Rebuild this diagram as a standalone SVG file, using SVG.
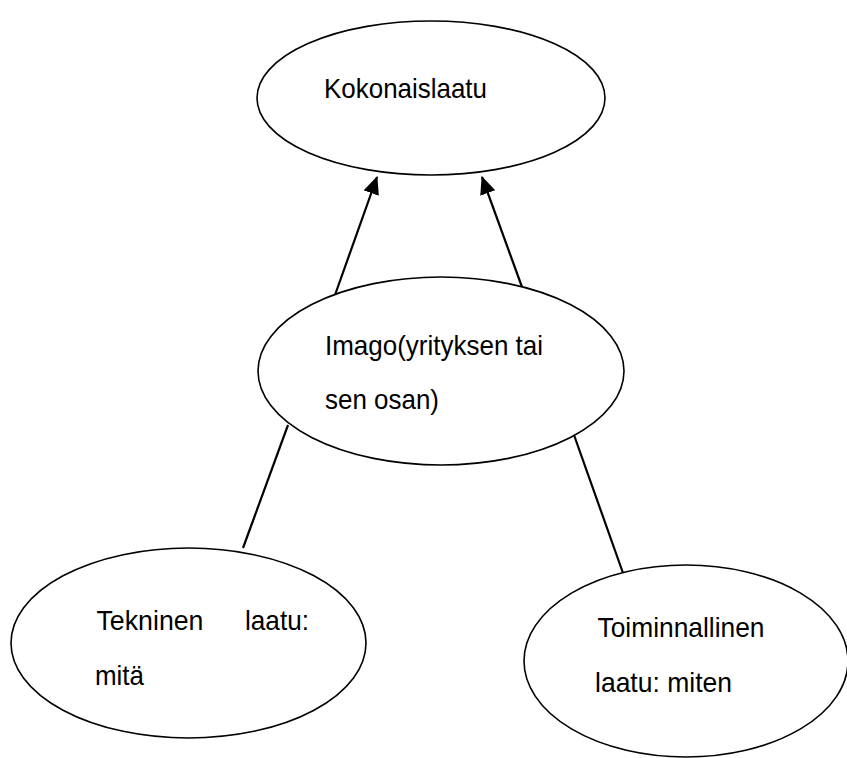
<svg xmlns="http://www.w3.org/2000/svg" width="847" height="758" viewBox="0 0 847 758">
<style>
  .node ellipse { fill: #ffffff; stroke: #000000; stroke-width: 1.6; }
  .node text { font-family: "Liberation Sans", Arial, sans-serif; font-size: 28px; fill: #000000; }
  .edge { stroke: #000000; stroke-width: 2.2; fill: none; }
</style>
<defs>
  <marker id="arrow" markerUnits="userSpaceOnUse" markerWidth="18" markerHeight="16" viewBox="0 0 18 16" refX="17" refY="8" orient="auto">
    <path d="M0,0 L18,8 L0,16 z" fill="#000000"/>
  </marker>
</defs>
<rect x="0" y="0" width="847" height="758" fill="#ffffff"/>
<g id="connectors">
  <line class="edge" x1="335" y1="295" x2="377" y2="177" marker-end="url(#arrow)"/>
  <line class="edge" x1="522" y1="287" x2="482" y2="177" marker-end="url(#arrow)"/>
  <line class="edge" x1="288" y1="425" x2="243" y2="548"/>
  <line class="edge" x1="574" y1="435" x2="623" y2="573"/>
</g>
<g id="node-kokonaislaatu" class="node">
  <ellipse cx="431" cy="98" rx="174" ry="77"/>
  <text x="324" y="98" textLength="163" lengthAdjust="spacingAndGlyphs">Kokonaislaatu</text>
</g>
<g id="node-imago" class="node">
  <ellipse cx="441" cy="371" rx="183" ry="94"/>
  <text x="325" y="355" textLength="218" lengthAdjust="spacingAndGlyphs">Imago(yrityksen tai</text>
  <text x="325" y="409" textLength="114" lengthAdjust="spacingAndGlyphs">sen osan)</text>
</g>
<g id="node-tekninen" class="node">
  <ellipse cx="188.5" cy="643" rx="177.5" ry="95"/>
  <text x="96.5" y="630" textLength="107" lengthAdjust="spacingAndGlyphs">Tekninen</text>
  <text x="245" y="630" textLength="64" lengthAdjust="spacingAndGlyphs">laatu:</text>
  <text x="95" y="685" textLength="49" lengthAdjust="spacingAndGlyphs">mitä</text>
</g>
<g id="node-toiminnallinen" class="node">
  <ellipse cx="686" cy="661" rx="162" ry="96"/>
  <text x="597.5" y="637" textLength="167" lengthAdjust="spacingAndGlyphs">Toiminnallinen</text>
  <text x="595" y="692" textLength="137" lengthAdjust="spacingAndGlyphs">laatu: miten</text>
</g>
</svg>
